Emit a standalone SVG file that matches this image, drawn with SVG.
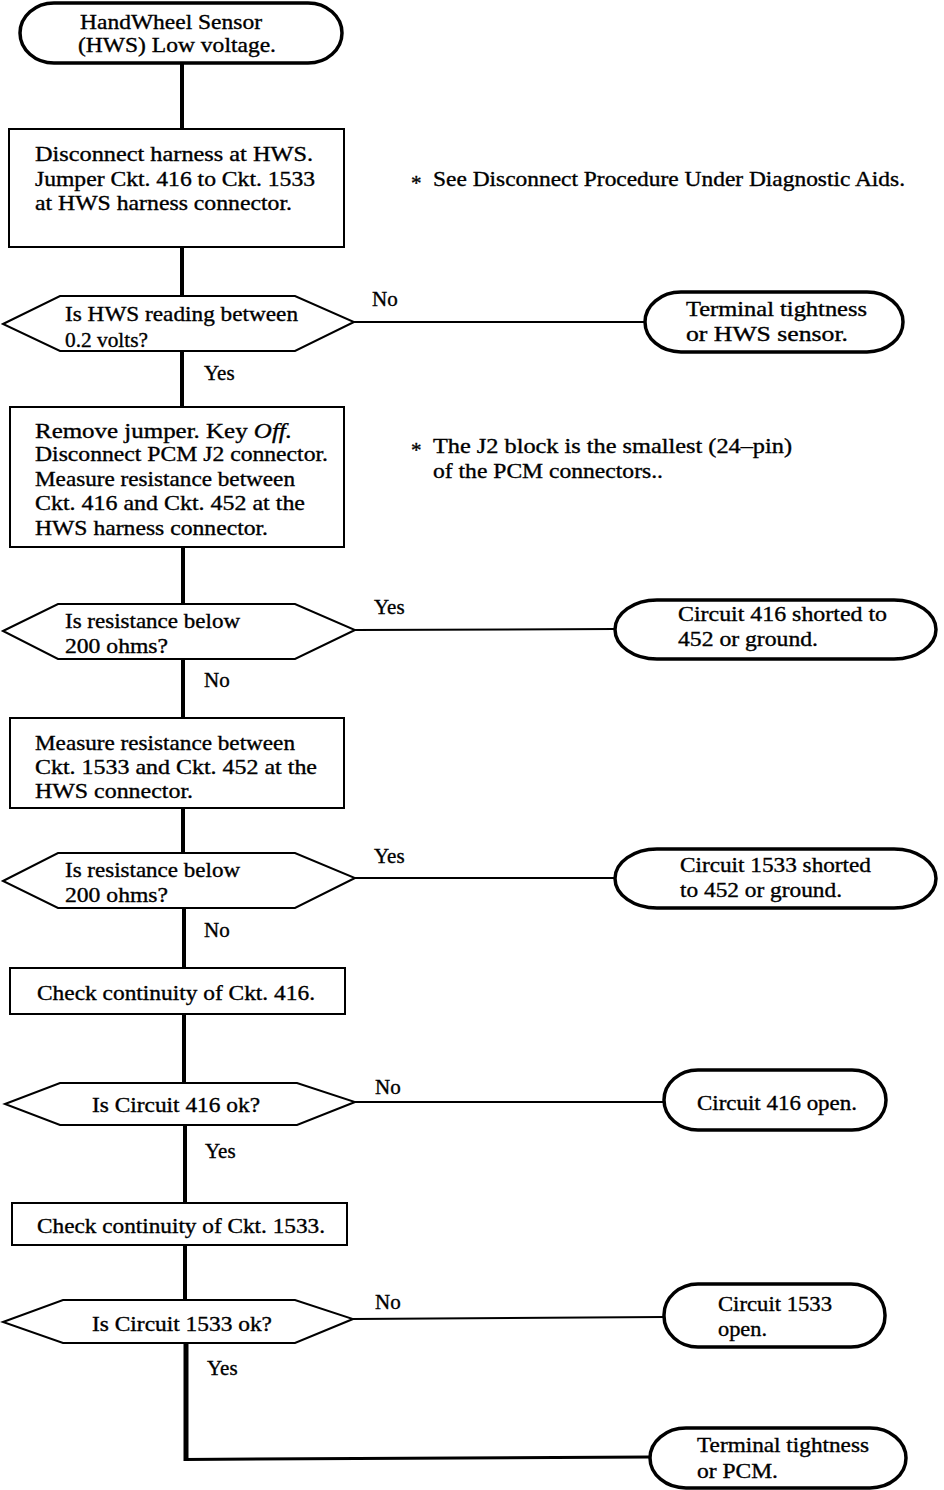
<svg xmlns="http://www.w3.org/2000/svg" width="944" height="1490" viewBox="0 0 944 1490">
<style>
text{font-family:"Liberation Serif","Times New Roman",serif;font-size:21px;fill:#000;stroke:#000;stroke-width:0.35}
.box{fill:#fff;stroke:#000;stroke-width:2}
.dec{fill:#fff;stroke:#000;stroke-width:2}
.term{fill:#fff;stroke:#000;stroke-width:3.5}
.v{stroke:#000;stroke-width:4;fill:none}
.h{stroke:#000;stroke-width:2;fill:none}
</style>
<rect width="944" height="1490" fill="#fff"/>
<g id="connectors">
<line class="v" x1="182" y1="63" x2="182" y2="129"/>
<line class="v" x1="182" y1="247" x2="182" y2="296"/>
<line class="v" x1="182" y1="351" x2="182" y2="407"/>
<line class="v" x1="183" y1="547" x2="183" y2="604"/>
<line class="v" x1="183" y1="659" x2="183" y2="718"/>
<line class="v" x1="183" y1="808" x2="183" y2="853"/>
<line class="v" x1="184" y1="908" x2="184" y2="968"/>
<line class="v" x1="184" y1="1014" x2="184" y2="1083"/>
<line class="v" x1="185" y1="1125" x2="185" y2="1203"/>
<line class="v" x1="185" y1="1245" x2="185" y2="1300"/>
<line x1="186" y1="1343" x2="186" y2="1461" stroke="#000" stroke-width="5"/>
<line x1="184" y1="1459.5" x2="650" y2="1457" stroke="#000" stroke-width="3"/>
<line class="h" x1="354" y1="322" x2="645" y2="322"/>
<line class="h" x1="355" y1="630" x2="615" y2="629"/>
<line class="h" x1="355" y1="878" x2="615" y2="878"/>
<line class="h" x1="355" y1="1102" x2="664" y2="1102"/>
<line class="h" x1="353" y1="1319" x2="664" y2="1317"/>
<text x="372" y="306">No</text>
<text x="204" y="380">Yes</text>
<text x="374" y="614">Yes</text>
<text x="204" y="687">No</text>
<text x="374" y="863">Yes</text>
<text x="204" y="937">No</text>
<text x="375" y="1094">No</text>
<text x="205" y="1158">Yes</text>
<text x="375" y="1309">No</text>
<text x="207" y="1375">Yes</text>
</g>
<g id="start">
<rect class="term" x="20" y="3" width="322" height="60" rx="34" ry="30"/>
<text x="80" y="29" textLength="182" lengthAdjust="spacingAndGlyphs">HandWheel Sensor</text>
<text x="78" y="52" textLength="198" lengthAdjust="spacingAndGlyphs">(HWS) Low voltage.</text>
</g>
<g id="step1">
<rect class="box" x="9" y="129" width="335" height="118"/>
<text x="35" y="161" textLength="278" lengthAdjust="spacingAndGlyphs">Disconnect harness at HWS.</text>
<text x="35" y="186" textLength="280" lengthAdjust="spacingAndGlyphs">Jumper Ckt. 416 to Ckt. 1533</text>
<text x="35" y="210" textLength="257" lengthAdjust="spacingAndGlyphs">at HWS harness connector.</text>
</g>
<g id="note1">
<text x="411" y="190">*</text>
<text x="433" y="186" textLength="472" lengthAdjust="spacingAndGlyphs">See Disconnect Procedure Under Diagnostic Aids.</text>
</g>
<g id="dec1">
<polygon class="dec" points="3,324 60,296 295,296 354,322 295,351 60,351"/>
<text x="65" y="321" textLength="233" lengthAdjust="spacingAndGlyphs">Is HWS reading between</text>
<text x="65" y="347" textLength="83" lengthAdjust="spacingAndGlyphs">0.2 volts?</text>
</g>
<g id="end1">
<rect class="term" x="645" y="292" width="258" height="60" rx="36" ry="30"/>
<text x="686" y="316" textLength="181" lengthAdjust="spacingAndGlyphs">Terminal tightness</text>
<text x="686" y="341" textLength="162" lengthAdjust="spacingAndGlyphs">or HWS sensor.</text>
</g>
<g id="step2">
<rect class="box" x="10" y="407" width="334" height="140"/>
<text x="35" y="438" textLength="257" lengthAdjust="spacingAndGlyphs">Remove jumper. Key <tspan font-style="italic">Off.</tspan></text>
<text x="35" y="461" textLength="293" lengthAdjust="spacingAndGlyphs">Disconnect PCM J2 connector.</text>
<text x="35" y="486" textLength="260" lengthAdjust="spacingAndGlyphs">Measure resistance between</text>
<text x="35" y="510" textLength="270" lengthAdjust="spacingAndGlyphs">Ckt. 416 and Ckt. 452 at the</text>
<text x="35" y="535" textLength="233" lengthAdjust="spacingAndGlyphs">HWS harness connector.</text>
</g>
<g id="note2">
<text x="411" y="457">*</text>
<text x="433" y="453" textLength="359" lengthAdjust="spacingAndGlyphs">The J2 block is the smallest (24–pin)</text>
<text x="433" y="478" textLength="230" lengthAdjust="spacingAndGlyphs">of the PCM connectors..</text>
</g>
<g id="dec2">
<polygon class="dec" points="3,631 58,604 295,604 355,630 295,659 58,659"/>
<text x="65" y="628" textLength="175" lengthAdjust="spacingAndGlyphs">Is resistance below</text>
<text x="65" y="653" textLength="103" lengthAdjust="spacingAndGlyphs">200 ohms?</text>
</g>
<g id="end2">
<rect class="term" x="615" y="600" width="321" height="59" rx="42" ry="29.5"/>
<text x="678" y="621" textLength="209" lengthAdjust="spacingAndGlyphs">Circuit 416 shorted to</text>
<text x="678" y="646" textLength="140" lengthAdjust="spacingAndGlyphs">452 or ground.</text>
</g>
<g id="step3">
<rect class="box" x="10" y="718" width="334" height="90"/>
<text x="35" y="750" textLength="260" lengthAdjust="spacingAndGlyphs">Measure resistance between</text>
<text x="35" y="774" textLength="282" lengthAdjust="spacingAndGlyphs">Ckt. 1533 and Ckt. 452 at the</text>
<text x="35" y="798" textLength="158" lengthAdjust="spacingAndGlyphs">HWS connector.</text>
</g>
<g id="dec3">
<polygon class="dec" points="3,881 58,853 295,853 355,878 295,908 58,908"/>
<text x="65" y="877" textLength="175" lengthAdjust="spacingAndGlyphs">Is resistance below</text>
<text x="65" y="902" textLength="103" lengthAdjust="spacingAndGlyphs">200 ohms?</text>
</g>
<g id="end3">
<rect class="term" x="615" y="849" width="321" height="59" rx="42" ry="29.5"/>
<text x="680" y="872" textLength="191" lengthAdjust="spacingAndGlyphs">Circuit 1533 shorted</text>
<text x="680" y="897" textLength="162" lengthAdjust="spacingAndGlyphs">to 452 or ground.</text>
</g>
<g id="step4">
<rect class="box" x="10" y="968" width="335" height="46"/>
<text x="37" y="1000" textLength="278" lengthAdjust="spacingAndGlyphs">Check continuity of Ckt. 416.</text>
</g>
<g id="dec4">
<polygon class="dec" points="5,1104 60,1083 297,1083 355,1102 297,1125 60,1125"/>
<text x="92" y="1112" textLength="168" lengthAdjust="spacingAndGlyphs">Is Circuit 416 ok?</text>
</g>
<g id="end4">
<rect class="term" x="664" y="1070" width="222" height="60" rx="34" ry="30"/>
<text x="697" y="1110" textLength="160" lengthAdjust="spacingAndGlyphs">Circuit 416 open.</text>
</g>
<g id="step5">
<rect class="box" x="12" y="1203" width="335" height="42"/>
<text x="37" y="1233" textLength="288" lengthAdjust="spacingAndGlyphs">Check continuity of Ckt. 1533.</text>
</g>
<g id="dec5">
<polygon class="dec" points="3,1322 63,1300 295,1300 353,1319 295,1343 63,1343"/>
<text x="92" y="1331" textLength="180" lengthAdjust="spacingAndGlyphs">Is Circuit 1533 ok?</text>
</g>
<g id="end5">
<rect class="term" x="664" y="1284" width="221" height="63" rx="34" ry="31"/>
<text x="718" y="1311" textLength="114" lengthAdjust="spacingAndGlyphs">Circuit 1533</text>
<text x="718" y="1336" textLength="49" lengthAdjust="spacingAndGlyphs">open.</text>
</g>
<g id="end6">
<rect class="term" x="650" y="1428" width="256" height="60" rx="36" ry="30"/>
<text x="697" y="1452" textLength="172" lengthAdjust="spacingAndGlyphs">Terminal tightness</text>
<text x="697" y="1478" textLength="81" lengthAdjust="spacingAndGlyphs">or PCM.</text>
</g>
</svg>
